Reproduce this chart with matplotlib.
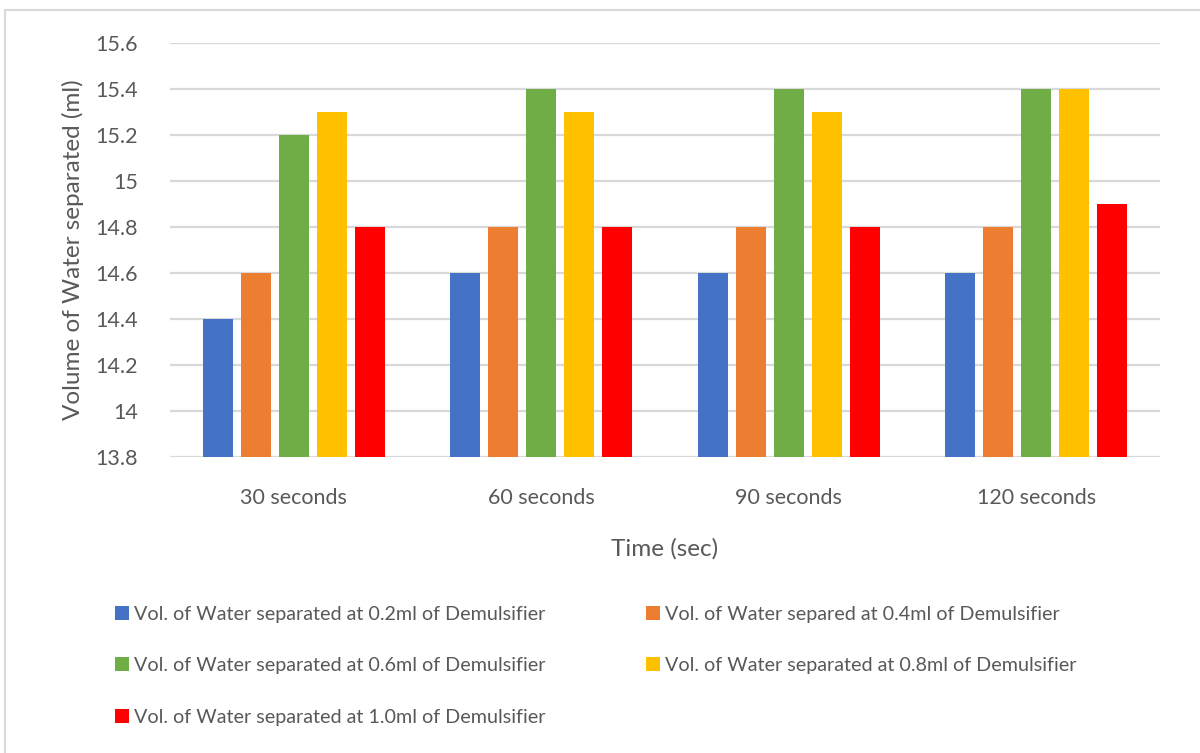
import numpy as np
import matplotlib
matplotlib.use("Agg")
import matplotlib.pyplot as plt
from matplotlib.patches import Rectangle
from matplotlib.ticker import FuncFormatter, MultipleLocator

# Data
categories = ["30 seconds", "60 seconds", "90 seconds", "120 seconds"]
series_labels = [
    "Vol. of Water separated at 0.2ml of Demulsifier",
    "Vol. of Water separed at 0.4ml of Demulsifier",
    "Vol. of Water separated at 0.6ml of Demulsifier",
    "Vol. of Water separated at 0.8ml of Demulsifier",
    "Vol. of Water separated at 1.0ml of Demulsifier",
]
vol_02 = [14.4, 14.6, 14.6, 14.6]
vol_04 = [14.6, 14.8, 14.8, 14.8]
vol_06 = [15.2, 15.4, 15.4, 15.4]
vol_08 = [15.3, 15.3, 15.3, 15.4]
vol_10 = [14.8, 14.8, 14.8, 14.9]
series_values = [vol_02, vol_04, vol_06, vol_08, vol_10]
colors = ["#4472C4", "#ED7D31", "#70AD47", "#FFC000", "#FF0000"]

TEXT = "#595959"
GRID = "#D9D9D9"
plt.rcParams["font.family"] = ["Lato", "DejaVu Sans"]

W, H = 1200, 753
fig = plt.figure(figsize=(W / 100, H / 100), dpi=100)

# Outer chart border
fig.patches.append(Rectangle((5 / W, -0.05), 1.2, 1 - 10 / H + 0.05,
                             transform=fig.transFigure, fill=False,
                             edgecolor="#D9D9D9", linewidth=1.5))

ax = fig.add_axes([170 / W, (H - 457) / H, 990 / W, 414 / H])

x = np.arange(len(categories))
bar_w = 0.121
step = 0.1535
handles = []
for i, (vals, c) in enumerate(zip(series_values, colors)):
    offs = (i - 2) * step
    h = ax.bar(x + offs, vals, width=bar_w, color=c, zorder=3,
               label=series_labels[i])
    handles.append(h)

ax.set_xlim(-0.5, len(categories) - 0.5)
ax.set_ylim(13.8, 15.6)
ax.yaxis.set_major_locator(MultipleLocator(0.2))
ax.yaxis.set_major_formatter(FuncFormatter(lambda v, p: f"{v:.1f}".rstrip("0").rstrip(".")))
ax.grid(axis="y", color=GRID, linewidth=1.6, zorder=0)
ax.set_axisbelow(True)
for s in ax.spines.values():
    s.set_visible(False)
ax.tick_params(axis="both", length=0, colors=TEXT, labelsize=15.5)
ax.tick_params(axis="y", pad=23)
ax.tick_params(axis="x", pad=22)
ax.set_xticks(x)
ax.set_xticklabels(categories)

ax.set_ylabel("Volume of Water separated (ml)", color=TEXT, fontsize=17.5, labelpad=8)
ax.set_xlabel("Time (sec)", color=TEXT, fontsize=17.5, labelpad=22)

order = [0, 2, 4, 1, 3]
leg = fig.legend([handles[i] for i in order], [series_labels[i] for i in order],
                 ncol=2, loc="upper left", bbox_to_anchor=(115 / W, 1 - 606 / H),
                 frameon=False, fontsize=14.2, handlelength=0.72, handleheight=0.72,
                 handletextpad=0.25, columnspacing=5.1, labelspacing=1.74,
                 borderaxespad=0, borderpad=0)
for t in leg.get_texts():
    t.set_color(TEXT)

fig.savefig("out.png", dpi=100, facecolor="white")
